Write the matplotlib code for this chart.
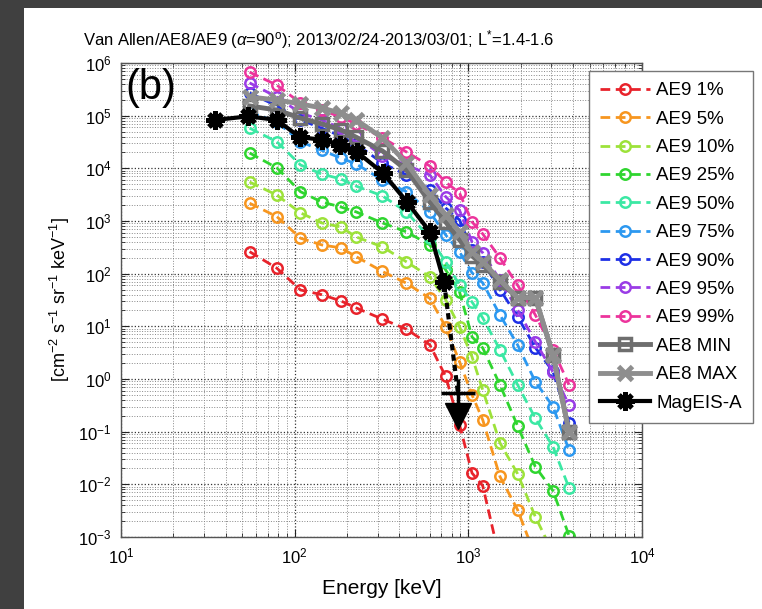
import matplotlib.pyplot as plt
import numpy as np
from matplotlib.patches import Rectangle
from matplotlib.ticker import LogLocator, NullFormatter
from matplotlib.transforms import offset_copy

plt.rcParams['font.family'] = ['Liberation Sans', 'DejaVu Sans']
plt.rcParams['mathtext.fontset'] = 'custom'
plt.rcParams['mathtext.rm'] = 'Liberation Sans'
plt.rcParams['mathtext.it'] = 'Liberation Sans:italic'

# energies of the model channels [keV]
energy = [55, 79, 108, 143, 184, 226, 320, 440, 600, 740, 890, 1050,
          1210, 1520, 1920, 2430, 3070, 3800]

# AE9 percentiles [cm-2 s-1 sr-1 keV-1]
ae9_p1 = [262, 127, 49, 40, 30.5, 22.4, 13.7, 8.85, 4.46, 1.12, 0.135,
          0.0164, 0.0094, 3.7e-4]
ae9_p5 = [2178, 1211, 472, 352, 309, 211, 110, 66, 34, 9.8, 2.12, 0.50,
          0.168, 0.0141, 0.0033, 4.3e-4]
ae9_p10 = [5.5e3, 3.1e3, 1.43e3, 920, 773, 499, 323, 168, 87, 32, 9.8,
           2.64, 0.62, 0.0615, 0.0159, 0.00243, 5e-4]
ae9_p25 = [1.96e4, 1.02e4, 3.6e3, 2.3e3, 1.85e3, 1.49e3, 920, 621, 352,
           118, 45, 6.3, 3.9, 0.78, 0.129, 0.0216, 0.0076, 0.00106]
ae9_p50 = [5.8e4, 3.2e4, 1.16e4, 7.8e3, 6.3e3, 4.6e3, 3.0e3, 1.49e3, 478,
           168, 61, 29, 14.5, 3.6, 0.78, 0.18, 0.052, 0.0086]
ae9_p75 = [1.17e5, 7.6e4, 3.2e4, 2.2e4, 1.57e4, 1.21e4, 6.0e3, 3.6e3,
           1.49e3, 545, 259, 104, 67, 16.5, 4.46, 0.89, 0.30, 0.045]
ae9_p90 = [2.7e5, 1.53e5, 8.3e4, 5.8e4, 4.1e4, 2.9e4, 1.26e4, 7.5e3, 3.9e3,
           1.77e3, 1.05e3, 283, 168, 50, 15.3, 3.95, 1.39, 0.148]
ae9_p95 = [4.2e5, 2.26e5, 1.12e5, 8.3e4, 5.8e4, 4.1e4, 1.72e4, 1.16e4,
           7.5e3, 2.9e3, 1.6e3, 400, 250, 76, 20.6, 5.1, 1.37, 0.32]
ae9_p99 = [6.7e5, 3.8e5, 1.74e5, 1.28e5, 9.4e4, 7.0e4, 3.8e4, 2.05e4,
           1.11e4, 5.5e3, 3.4e3, 960, 570, 200, 61, 16.5, 3.6, 0.78]

ae8_min = [1.53e5, 1.28e5, 9.0e4, 7.0e4, 5.4e4, 3.9e4, 2.14e4, 9.3e3,
           2.3e3, 960, 438, 218, 147, 70, 35, 35, 2.9, 0.10]
ae8_max = [2.26e5, 1.99e5, 1.67e5, 1.40e5, 1.12e5, 8.3e4, 3.8e4, 1.26e4,
           3.1e3, 1.31e3, 621, 259, 168, 76, 35, 35, 2.9, 0.10]

# MagEIS-A measurement
mageis_energy = [35, 54, 79, 107, 143, 182, 228, 322, 443, 601, 725]
mageis_flux = [8.3e4, 9.7e4, 8.3e4, 3.9e4, 3.5e4, 2.8e4, 2.05e4, 8.2e3,
               2.3e3, 621, 69]
limit_energy = 871
limit_flux = 0.55

ae9_sets = [
    ('AE9 1%', ae9_p1, '#e8232b'),
    ('AE9 5%', ae9_p5, '#f7961f'),
    ('AE9 10%', ae9_p10, '#9de23a'),
    ('AE9 25%', ae9_p25, '#2fd52f'),
    ('AE9 50%', ae9_p50, '#3be8a4'),
    ('AE9 75%', ae9_p75, '#2c98f0'),
    ('AE9 90%', ae9_p90, '#1e30e6'),
    ('AE9 95%', ae9_p95, '#9a3ce6'),
    ('AE9 99%', ae9_p99, '#ec349c'),
]

fig = plt.figure(figsize=(7.62, 6.09), dpi=100)
fig.patch.set_facecolor('#404040')
fig.patches.append(Rectangle((24 / 762, 0), 1, 1 - 8 / 609,
                             transform=fig.transFigure, facecolor='white',
                             edgecolor='none', zorder=-10))

ax = fig.add_axes([121 / 762, 72 / 609, 521 / 762, 474 / 609])

for label, vals, col in ae9_sets:
    ax.plot(energy[:len(vals)], vals, '--o', color=col, lw=2, ms=7.5,
            mfc='none', mew=1.8, dashes=(3.5, 2), label=label)

ax.plot(energy, ae8_min, '-s', color='#6e6e6e', lw=3.5, ms=9, mfc='none',
        mew=2.5, label='AE8 MIN')
ax.plot(energy, ae8_max, '-x', color='#8e8e8e', lw=3.5, ms=10, mew=3.5,
        label='AE8 MAX')

ax.plot([mageis_energy[-1], limit_energy], [mageis_flux[-1], limit_flux],
        color='black', lw=3, dashes=(1.5, 1))
ax.plot(mageis_energy, mageis_flux, '-', color='black', lw=3,
        marker=(8, 2, 0), ms=13, mew=3.5, label='MagEIS-A')
ax.plot([limit_energy], [limit_flux], marker='_', color='black', ms=24,
        mew=2.5)
ax.plot([limit_energy], [limit_flux], marker='|', color='black', ms=20,
        mew=2.5)
arrow_tr = offset_copy(ax.transData, fig=fig, x=0, y=-23, units='dots')
ax.plot([limit_energy], [limit_flux], marker='v', color='black', ms=19,
        transform=arrow_tr)

ax.set_xscale('log')
ax.set_yscale('log')
ax.set_xlim(10, 1e4)
ax.set_ylim(1e-3, 1e6)
ax.xaxis.set_major_locator(LogLocator(base=10, numticks=10))
ax.yaxis.set_major_locator(LogLocator(base=10, numticks=12))
ax.xaxis.set_minor_locator(LogLocator(base=10, subs=np.arange(2, 10), numticks=12))
ax.yaxis.set_minor_locator(LogLocator(base=10, subs=np.arange(2, 10), numticks=12))
ax.yaxis.set_minor_formatter(NullFormatter())
ax.xaxis.set_minor_formatter(NullFormatter())
ax.tick_params(which='both', direction='in', top=True, right=True,
               labelsize=12, color='#222222')
ax.tick_params(which='major', length=6, width=0.8, pad=7)
ax.tick_params(which='minor', length=3, width=0.6)
ax.grid(True, which='major', linestyle=':', color='#333333', lw=0.9)
ax.grid(True, which='minor', linestyle=':', color='#888888', lw=0.7)
for sp in ax.spines.values():
    sp.set_color('#555555')
    sp.set_linewidth(1.0)

ax.set_xlabel('Energy [keV]', fontsize=15, labelpad=9)
ax.set_ylabel(r'[cm$^{-2}$ s$^{-1}$ sr$^{-1}$ keV$^{-1}$]', fontsize=13,
              labelpad=4)
fig.text(83 / 762, 1 - 40 / 609,
         r'Van Allen/AE8/AE9 ($\alpha$=90$^{\rm o}$); 2013/02/24-2013/03/01; L$^{*}$=1.4-1.6',
         fontsize=12, ha='left', va='center')
ax.text(0.008, 0.99, '(b)', transform=ax.transAxes, fontsize=30,
        ha='left', va='top')

leg = ax.legend(loc='upper left', bbox_to_anchor=(589 / 762, 1 - 71 / 609),
                bbox_transform=fig.transFigure, borderaxespad=0,
                fontsize=13.5, handlelength=2.67, handletextpad=0.32,
                labelspacing=0.6, borderpad=0.6, fancybox=False,
                framealpha=1, edgecolor='#777777')
leg.get_frame().set_linewidth(1.0)

fig.savefig('out.png', dpi=100, facecolor=fig.get_facecolor())
